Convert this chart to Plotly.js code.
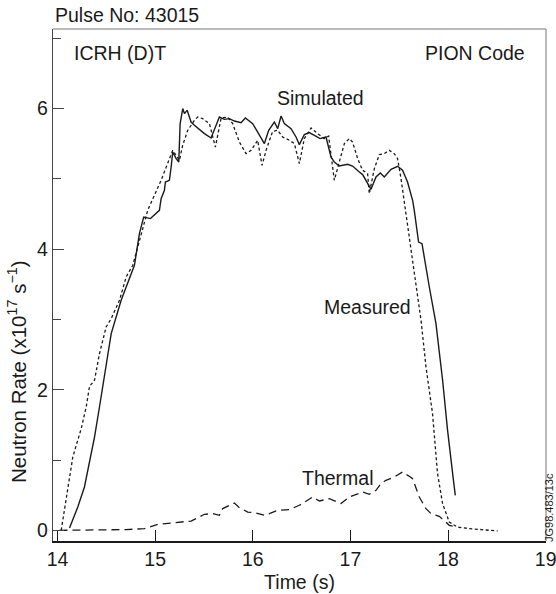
<!DOCTYPE html>
<html>
<head>
<meta charset="utf-8">
<script src="https://cdn.plot.ly/plotly-3.0.1.min.js"></script>
<style>
  html, body { margin: 0; padding: 0; background: #fff; }
  #chart { width: 556px; height: 594px; }
</style>
</head>
<body>
<div id="chart"></div>
<script>
// Simulated neutron rate (solid)
var simTime = [14.123,14.208,14.276,14.345,14.379,14.430,14.498,14.550,14.652,14.788,14.839,14.883,14.952,15.044,15.061,15.095,15.105,15.146,15.164,15.180,15.215,15.242,15.256,15.283,15.300,15.328,15.368,15.402,15.505,15.573,15.658,15.709,15.760,15.812,15.880,15.924,15.999,16.068,16.119,16.163,16.221,16.255,16.290,16.323,16.392,16.443,16.477,16.528,16.579,16.631,16.689,16.750,16.801,16.835,16.886,16.971,17.022,17.091,17.125,17.211,17.262,17.306,17.347,17.416,17.483,17.534,17.585,17.637,17.654,17.698,17.733,17.808,17.876,17.944,17.995,18.053,18.074];
var simRate = [0.033,0.331,0.616,1.067,1.327,1.754,2.323,2.798,3.272,3.770,4.220,4.457,4.434,4.552,4.718,4.836,4.954,4.979,5.168,5.381,5.287,5.239,5.785,5.999,5.927,5.974,5.808,5.761,5.643,5.580,5.879,5.846,5.856,5.822,5.799,5.865,5.785,5.619,5.501,5.690,5.808,5.714,5.893,5.785,5.714,5.595,5.486,5.629,5.657,5.619,5.572,5.595,5.310,5.239,5.182,5.206,5.182,5.097,5.060,4.851,5.026,5.083,5.026,5.135,5.178,5.121,4.954,4.694,4.552,4.101,4.078,3.461,2.940,2.134,1.422,0.735,0.498];

// Measured neutron rate (dotted)
var measTime = [14.038,14.072,14.157,14.243,14.294,14.328,14.379,14.430,14.498,14.550,14.635,14.703,14.771,14.924,15.061,15.180,15.249,15.282,15.334,15.402,15.436,15.487,15.556,15.617,15.658,15.676,15.743,15.794,15.863,15.931,15.983,16.050,16.095,16.142,16.204,16.255,16.306,16.375,16.426,16.477,16.528,16.597,16.664,16.733,16.777,16.801,16.835,16.886,16.938,16.989,17.022,17.074,17.125,17.176,17.193,17.245,17.296,17.347,17.398,17.449,17.483,17.518,17.569,17.620,17.671,17.723,17.774,17.841,17.892,17.944,18.012,18.097,18.217,18.353,18.507];
var measRate = [0.0,0.284,1.043,1.447,1.754,2.048,2.134,2.513,2.892,3.011,3.272,3.603,3.770,4.552,4.979,5.405,5.263,5.477,5.690,5.832,5.879,5.856,5.785,5.452,5.737,5.865,5.879,5.785,5.523,5.358,5.405,5.548,5.192,5.430,5.676,5.690,5.595,5.548,5.501,5.216,5.572,5.723,5.643,5.572,5.609,5.334,4.979,5.239,5.501,5.572,5.523,5.287,5.121,5.074,4.789,5.145,5.344,5.358,5.405,5.358,5.287,5.003,4.505,4.030,3.461,2.987,2.323,1.660,0.807,0.380,0.118,0.045,0.025,0.012,-0.01];

// Thermal neutron rate (dashed)
var thermTime = [14.020,14.703,14.890,15.027,15.368,15.505,15.590,15.658,15.692,15.812,15.863,15.948,16.034,16.119,16.170,16.255,16.375,16.477,16.613,16.682,16.784,16.904,16.989,17.125,17.193,17.262,17.313,17.364,17.449,17.534,17.603,17.637,17.705,17.774,17.825,17.910,17.978,18.012,18.081];
var thermRate = [0.0,0.010,0.024,0.085,0.132,0.228,0.238,0.213,0.309,0.388,0.323,0.260,0.246,0.213,0.238,0.284,0.294,0.356,0.474,0.417,0.451,0.380,0.474,0.545,0.512,0.569,0.664,0.711,0.758,0.829,0.768,0.735,0.474,0.309,0.238,0.199,0.118,0.071,0.047];

var xTicks = [14, 15, 16, 17, 18, 19];
var yTicks = [0, 2, 4, 6];

var ink = '#1a1a1a';
var FONT = 'Liberation Sans, Arial, Helvetica, sans-serif';

var traces = [
  {x: simTime, y: simRate, mode: 'lines', line: {color: ink, width: 1.4}, hoverinfo: 'skip'},
  {x: measTime, y: measRate, mode: 'lines', line: {color: ink, width: 1.3, dash: '3px,2.5px'}, hoverinfo: 'skip'},
  {x: thermTime, y: thermRate, mode: 'lines', line: {color: ink, width: 1.3, dash: '8px,5px'}, hoverinfo: 'skip'}
];

var W = 556, H = 594, mL = 53, mR = 10, mT = 29, mB = 53;
var pw = W - mL - mR, ph = H - mT - mB;
function px(x) { return (x - mL) / pw; }
function py(y) { return (H - mB - y) / ph; }

function ann(text, x, y, xa, size, extra) {
  var a = {text: text, xref: 'paper', yref: 'paper', x: px(x), y: py(y), xanchor: xa, yanchor: 'middle',
           showarrow: false, font: {family: FONT, size: size, color: ink}};
  if (extra) for (var k in extra) a[k] = extra[k];
  return a;
}

var layout = {
  width: W, height: H,
  margin: {l: mL, r: mR, t: mT, b: mB, pad: 0},
  paper_bgcolor: '#fff', plot_bgcolor: '#fff',
  showlegend: false,
  font: {family: FONT, size: 19.5, color: ink},
  xaxis: {
    range: [13.954, 19.003], tickvals: xTicks, ticktext: xTicks.map(String),
    ticks: 'inside', ticklen: 11, tickwidth: 1, tickcolor: ink,
    showline: true, linecolor: ink, linewidth: 1.5, mirror: false,
    showgrid: false, zeroline: false, ticklabeloverflow: 'allow',
    tickfont: {family: FONT, size: 19.5, color: ink},
    title: {text: 'Time (s)', font: {family: FONT, size: 19.5, color: ink}, standoff: 6}
  },
  yaxis: {
    range: [-0.152, 7.131], tickvals: yTicks, ticktext: yTicks.map(String),
    ticks: 'inside', ticklen: 11, tickwidth: 1, tickcolor: '#444',
    minor: {tickvals: [1, 3, 5, 7], ticks: 'inside', ticklen: 8, tickwidth: 1, tickcolor: '#444'},
    showline: true, linecolor: '#444', linewidth: 1.2, mirror: false,
    showgrid: false, zeroline: false,
    tickfont: {family: FONT, size: 19.5, color: ink}
  },
  shapes: [
    {type: 'line', xref: 'paper', yref: 'paper', x0: 0, x1: 1, y0: 1, y1: 1, line: {color: '#777', width: 1}},
    {type: 'line', xref: 'paper', yref: 'paper', x0: 1, x1: 1, y0: 0, y1: 1, line: {color: '#777', width: 1}}
  ],
  annotations: [
    ann('Pulse No: 43015', 53, 15, 'left', 19.5),
    ann('ICRH (D)T', 72, 53, 'left', 19.5),
    ann('PION Code', 527, 53, 'right', 19.5),
    ann('Simulated', 275, 98, 'left', 19.5),
    ann('Measured', 413, 307, 'right', 19.5),
    ann('Thermal', 376, 478, 'right', 19.5),
    ann('Neutron Rate (x10<sup>17</sup> s<sup>\u22121</sup>)', 17, 372, 'center', 20.5, {textangle: -90}),
    ann('JG98.483/13c', 549, 508, 'center', 11, {textangle: -90})
  ]
};

Plotly.newPlot('chart', traces, layout, {staticPlot: true, displayModeBar: false});
</script>
</body>
</html>
